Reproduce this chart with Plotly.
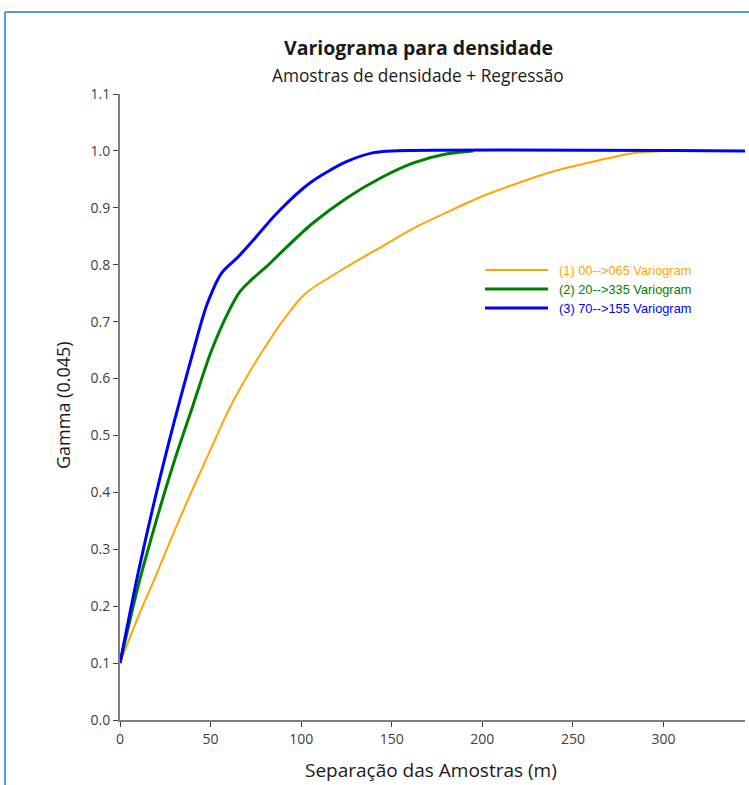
import plotly.graph_objects as go

# ---- data ----
series_names = ["(1) 00-->065 Variogram", "(2) 20-->335 Variogram", "(3) 70-->155 Variogram"]
series_colors = ["#FFA500", "#008000", "#0000FF"]

orange_x = [0, 10, 20, 30, 40, 50, 60, 70, 80, 90, 100, 105, 125, 144, 162, 181, 199, 221, 238, 265, 283, 300, 308]
orange_y = [0.1, 0.181, 0.255, 0.332, 0.405, 0.475, 0.545, 0.603, 0.655, 0.702, 0.742, 0.756, 0.796, 0.831, 0.864,
            0.893, 0.919, 0.945, 0.963, 0.984, 0.996, 1.0, 1.0]

green_x = [0, 10, 20, 30, 40, 50, 60, 66, 72, 81, 88.4, 106, 125, 143.6, 162, 180.6, 195]
green_y = [0.1, 0.235, 0.35, 0.455, 0.55, 0.645, 0.718, 0.752, 0.772, 0.797, 0.82, 0.872, 0.917, 0.952, 0.979,
           0.995, 1.0]

blue_x = [0, 10, 20, 30, 40, 48, 56, 65, 73.5, 86.7, 105, 125, 140, 150, 345]
blue_y = [0.1, 0.258, 0.398, 0.525, 0.643, 0.73, 0.785, 0.813, 0.843, 0.891, 0.944, 0.981, 0.997, 1.0, 1.0]

x_ticks = [0, 50, 100, 150, 200, 250, 300]
y_ticks = [0.0, 0.1, 0.2, 0.3, 0.4, 0.5, 0.6, 0.7, 0.8, 0.9, 1.0, 1.1]

title = "Variograma para densidade"
subtitle = "Amostras de densidade + Regressão"
x_title = "Separação das Amostras (m)"
y_title = "Gamma (0.045)"

# ---- layout geometry ----
W, H = 749, 785
L, R, T, B = 120, 4, 94, 65
PW, PH = W - L - R, H - T - B


def px(x):
    return (x - L) / PW


def py(y):
    return (H - B - y) / PH


fig = go.Figure()
widths = [2, 3, 3]
for xs, ys, name, col, w in zip([orange_x, green_x, blue_x], [orange_y, green_y, blue_y],
                                series_names, series_colors, widths):
    fig.add_trace(go.Scatter(x=xs, y=ys, mode="lines", name=name,
                             line=dict(color=col, width=w, shape="spline", smoothing=0.8),
                             showlegend=False))

font_main = "Open Sans, Noto Sans, sans-serif"

fig.update_layout(
    width=W, height=H,
    margin=dict(l=L, r=R, t=T, b=B),
    paper_bgcolor="white", plot_bgcolor="white",
    font=dict(family=font_main, color="#404040"),
)

fig.update_xaxes(range=[0, 345], tickvals=x_ticks, ticks="outside", ticklen=5, tickwidth=1,
                 tickcolor="#404040", showline=True, linecolor="#7f7f7f", linewidth=2,
                 showgrid=False, zeroline=False, tickfont=dict(size=14, color="#404040"))
fig.update_yaxes(range=[0, 1.1], tickvals=y_ticks, tickformat=".1f", ticks="outside", ticklen=5,
                 tickwidth=1, tickcolor="#404040", showline=True, linecolor="#7f7f7f", linewidth=2,
                 showgrid=False, zeroline=False, tickfont=dict(size=14, color="#404040"))

annotations = [
    dict(text="<b>" + title + "</b>", x=px(418), y=py(47), font=dict(size=19.5, color="#1a1a1a")),
    dict(text=subtitle, x=px(418), y=py(75), font=dict(size=17.3, color="#1a1a1a")),
    dict(text=x_title, x=px(431), y=py(770), font=dict(size=19, color="#1a1a1a")),
    dict(text=y_title, x=px(63), y=py(405), textangle=-90, font=dict(size=18, color="#1a1a1a")),
]
for a in annotations:
    a.update(xref="paper", yref="paper", showarrow=False, xanchor="center", yanchor="middle")

shapes = []
# manual legend
leg_rows = [270, 289, 308]
for name, col, w, ry in zip(series_names, series_colors, widths, leg_rows):
    shapes.append(dict(type="line", xref="paper", yref="paper", x0=px(485), x1=px(548),
                       y0=py(ry), y1=py(ry), line=dict(color=col, width=w)))
    annotations.append(dict(text=name, xref="paper", yref="paper", x=px(557), y=py(ry),
                            xanchor="left", yanchor="middle", showarrow=False,
                            font=dict(family="Liberation Sans, Arial, sans-serif", size=12.8, color=col)))

# blue frame
frame_col = "#5B9BD5"
shapes.append(dict(type="line", xref="paper", yref="paper", x0=px(5), x1=px(749), y0=py(12), y1=py(12),
                   line=dict(color=frame_col, width=2)))
shapes.append(dict(type="line", xref="paper", yref="paper", x0=px(5), x1=px(5), y0=py(12), y1=py(785),
                   line=dict(color=frame_col, width=2)))

fig.update_layout(annotations=annotations, shapes=shapes)
fig.write_html("out.html")
